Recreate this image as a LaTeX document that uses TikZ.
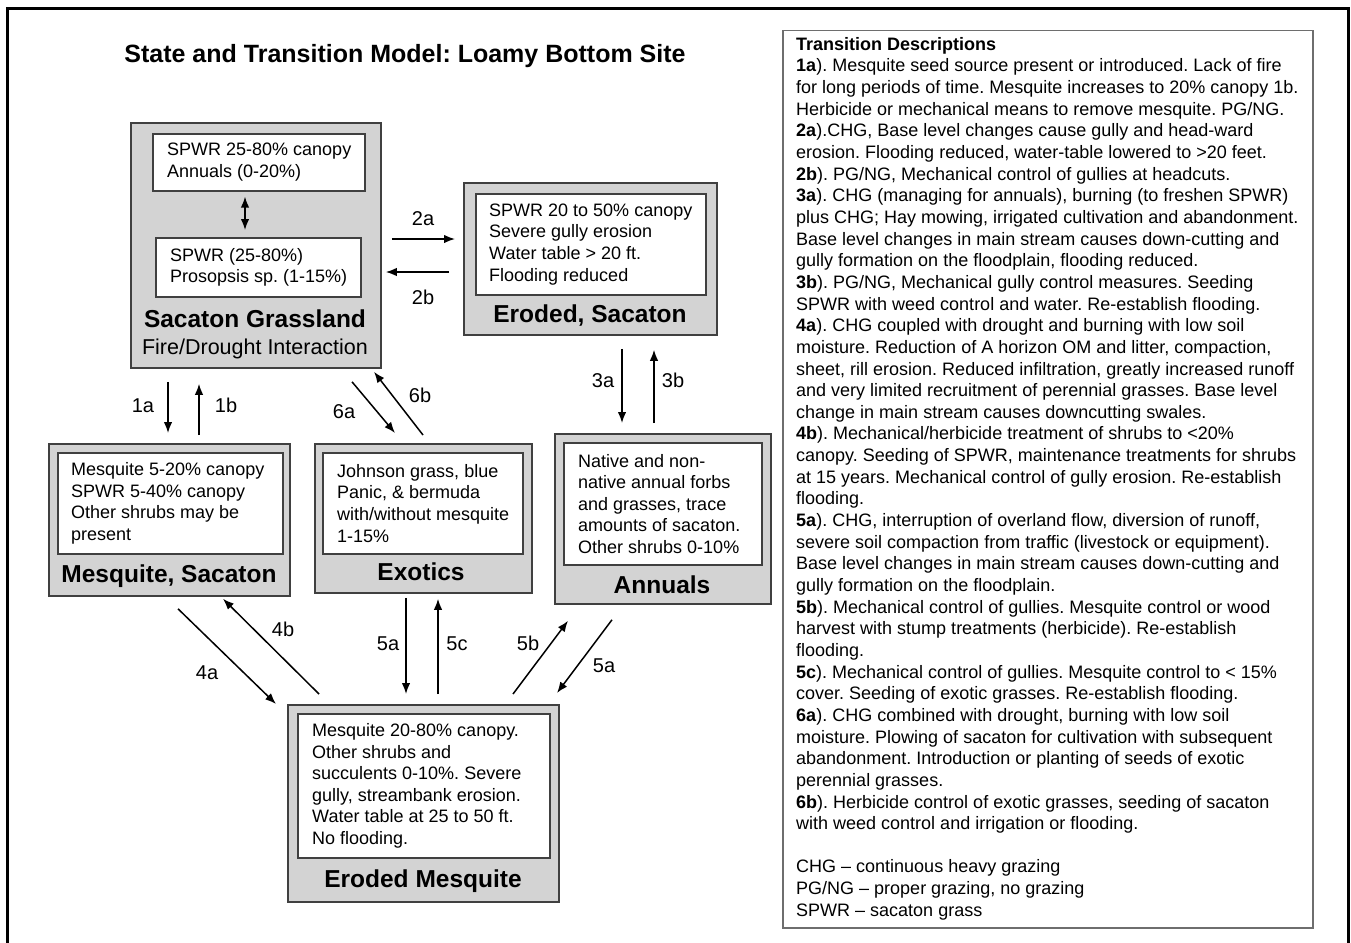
\documentclass[tikz,border=0pt]{standalone}
\usepackage{fontspec}
\setmainfont{Liberation Sans}
\usetikzlibrary{arrows.meta,calc}
\definecolor{stategray}{HTML}{D3D3D3}
\definecolor{edgegray}{HTML}{404040}
\definecolor{panelgray}{HTML}{6E6E6E}
\tikzset{>={Latex[length=11pt,width=8.5pt]},
         statebox/.style={draw=edgegray,line width=1.8pt,fill=stategray,
                          anchor=north west,inner sep=0pt},
         phasebox/.style={draw=edgegray,line width=1.6pt,fill=white,
                          anchor=north west,inner sep=0pt},
         phasetext/.style={anchor=west,align=left,inner sep=0pt,
                           font=\fontsize{18}{21.6}\selectfont},
         statename/.style={anchor=base,inner sep=0pt,
                           font=\fontsize{24.5}{29}\selectfont\bfseries},
         trans/.style={->,line width=1.5pt},
         translabel/.style={anchor=base,inner sep=0pt,
                            font=\fontsize{20}{24}\selectfont}}
\frenchspacing

\begin{document}
\begin{tikzpicture}[x=1pt,y=-1pt]
  \useasboundingbox (0,0) rectangle (1351,942);
  \draw[line width=3pt] (7,9) rectangle (1348,960);

  \node[statename,font=\fontsize{25}{30}\selectfont\bfseries] (T) at (405,63)
    {State and Transition Model: Loamy Bottom Site};

  % states
  \node[statebox,minimum width=250pt,minimum height=245pt] (G) at (130,122) {};
  \node[phasebox,minimum width=212pt,minimum height=57pt] (G1) at (152,133) {};
  \node[phasetext] (G1t) at ($(G1.west)+(15,0)$) {SPWR 25-80\% canopy\\Annuals (0-20\%)};
  \node[phasebox,minimum width=205pt,minimum height=59pt] (G2) at (155,237) {};
  \node[phasetext] (G2t) at ($(G2.west)+(15,0)$) {SPWR (25-80\%)\\Prosopsis sp. (1-15\%)};
  \node[statename] (Gn) at (255,327) {Sacaton Grassland};
  \node[translabel,font=\fontsize{21.5}{26}\selectfont] (Gs) at (255,354) {Fire/Drought Interaction};
  \draw[<->,line width=1.5pt] ($(G1.south west)+(93,5)$) -- ($(G2.north west)+(90,-7)$);

  \node[statebox,minimum width=253pt,minimum height=152pt] (ES) at (463,182) {};
  \node[phasebox,minimum width=230pt,minimum height=101pt] (ES1) at (475,193) {};
  \node[phasetext] (ES1t) at ($(ES1.west)+(14,0)$)
    {SPWR 20 to 50\% canopy\\Severe gully erosion\\Water table > 20 ft.\\Flooding reduced};
  \node[statename] (ESn) at (590,322) {Eroded, Sacaton};

  \node[statebox,minimum width=241pt,minimum height=152pt] (M) at (48,443) {};
  \node[phasebox,minimum width=225pt,minimum height=101pt] (M1) at (57,452) {};
  \node[phasetext] (M1t) at ($(M1.west)+(14,0)$)
    {Mesquite 5-20\% canopy\\SPWR 5-40\% canopy\\Other shrubs may be\\present};
  \node[statename] (Mn) at (169,582) {Mesquite, Sacaton};

  \node[statebox,minimum width=217pt,minimum height=149pt] (X) at (314,443) {};
  \node[phasebox,minimum width=200pt,minimum height=101pt] (X1) at (322,452) {};
  \node[phasetext] (X1t) at ($(X1.west)+(15,0)$)
    {Johnson grass, blue\\Panic, \& bermuda\\with/without mesquite\\1-15\%};
  \node[statename] (Xn) at (421,580) {Exotics};

  \node[statebox,minimum width=216pt,minimum height=170pt] (A) at (554,433) {};
  \node[phasebox,minimum width=198pt,minimum height=122pt] (A1) at (563,442) {};
  \node[phasetext] (A1t) at ($(A1.west)+(15,0)$)
    {Native and non-\\native annual forbs\\and grasses, trace\\amounts of sacaton.\\Other shrubs 0-10\%};
  \node[statename] (An) at (662,593) {Annuals};

  \node[statebox,minimum width=271pt,minimum height=197pt] (EM) at (287,704) {};
  \node[phasebox,minimum width=252pt,minimum height=144pt] (EM1) at (297,713) {};
  \node[phasetext] (EM1t) at ($(EM1.west)+(15,0)$)
    {Mesquite 20-80\% canopy.\\Other shrubs and\\succulents 0-10\%. Severe\\gully, streambank erosion.\\Water table at 25 to 50 ft.\\No flooding.};
  \node[statename] (EMn) at (423,887) {Eroded Mesquite};

  % transitions
  \draw[trans] ($(G.south west)+(38,13)$) -- ($(M.north west)+(120,-10)$);
  \draw[trans] ($(M.north west)+(151,-8)$) -- ($(G.south west)+(69,15)$);
  \draw[trans] ($(G.north east)+(10,117)$) -- ($(ES.north west)+(-8,57)$);
  \draw[trans] ($(ES.north west)+(-14,90)$) -- ($(G.north east)+(4,150)$);
  \draw[trans] ($(ES.south west)+(159,13)$) -- ($(A.north west)+(68,-10)$);
  \draw[trans] ($(A.north west)+(100,-10)$) -- ($(ES.south west)+(191,14)$);
  \draw[trans] ($(G.south west)+(222,13)$) -- ($(X.north west)+(81,-10)$);
  \draw[trans] ($(X.north west)+(109,-8)$) -- ($(G.south west)+(244,3)$);
  \draw[trans] ($(M.south west)+(130,12)$) -- ($(EM.north west)+(-11,0)$);
  \draw[trans] ($(EM.north west)+(32,-10)$) -- ($(M.south west)+(175,2)$);
  \draw[trans] ($(X.south west)+(92,4)$) -- ($(EM.north west)+(119,-10)$);
  \draw[trans] ($(EM.north west)+(151,-10)$) -- ($(X.south west)+(124,5)$);
  \draw[trans] ($(EM.north west)+(226,-10)$) -- ($(A.south west)+(14,16)$);
  \draw[trans] ($(A.south west)+(58,15)$) -- ($(EM.north west)+(270,-11)$);

  \node[translabel] (l1a) at (143,412) {1a};
  \node[translabel] (l1b) at (226,412) {1b};
  \node[translabel] (l2a) at (423,225) {2a};
  \node[translabel] (l2b) at (423,304) {2b};
  \node[translabel] (l3a) at (603,387) {3a};
  \node[translabel] (l3b) at (673,387) {3b};
  \node[translabel] (l6a) at (344,418) {6a};
  \node[translabel] (l6b) at (420,402) {6b};
  \node[translabel] (l4a) at (207,679) {4a};
  \node[translabel] (l4b) at (283,636) {4b};
  \node[translabel] (l5a) at (388,650) {5a};
  \node[translabel] (l5c) at (457,650) {5c};
  \node[translabel] (l5b) at (528,650) {5b};
  \node[translabel] (l5d) at (604,672) {5a};

  % descriptions
  \node[draw=panelgray,line width=1.5pt,anchor=north west,inner sep=0pt,
        minimum width=530pt,minimum height=897pt] (P) at (782,30) {};
  \node[anchor=north west,align=left,inner sep=0pt,
        font=\fontsize{18}{21.65}\selectfont] (D) at (796,37)
    {\textbf{Transition Descriptions}\\
     \textbf{1a}). Mesquite seed source present or introduced. Lack of fire\\
     for long periods of time. Mesquite increases to 20\% canopy 1b.\\
     Herbicide or mechanical means to remove mesquite. PG/NG.\\
     \textbf{2a}).CHG, Base level changes cause gully and head-ward\\
     erosion. Flooding reduced, water-table lowered to >20 feet.\\
     \textbf{2b}). PG/NG, Mechanical control of gullies at headcuts.\\
     \textbf{3a}). CHG (managing for annuals), burning (to freshen SPWR)\\
     plus CHG; Hay mowing, irrigated cultivation and abandonment.\\
     Base level changes in main stream causes down-cutting and\\
     gully formation on the floodplain, flooding reduced.\\
     \textbf{3b}). PG/NG, Mechanical gully control measures. Seeding\\
     SPWR with weed control and water. Re-establish flooding.\\
     \textbf{4a}). CHG coupled with drought and burning with low soil\\
     moisture. Reduction of A horizon OM and litter, compaction,\\
     sheet, rill erosion. Reduced infiltration, greatly increased runoff\\
     and very limited recruitment of perennial grasses. Base level\\
     change in main stream causes downcutting swales.\\
     \textbf{4b}). Mechanical/herbicide treatment of shrubs to <20\%\\
     canopy. Seeding of SPWR, maintenance treatments for shrubs\\
     at 15 years. Mechanical control of gully erosion. Re-establish\\
     flooding.\\
     \textbf{5a}). CHG, interruption of overland flow, diversion of runoff,\\
     severe soil compaction from traffic (livestock or equipment).\\
     Base level changes in main stream causes down-cutting and\\
     gully formation on the floodplain.\\
     \textbf{5b}). Mechanical control of gullies. Mesquite control or wood\\
     harvest with stump treatments (herbicide). Re-establish\\
     flooding.\\
     \textbf{5c}). Mechanical control of gullies. Mesquite control to < 15\%\\
     cover. Seeding of exotic grasses. Re-establish flooding.\\
     \textbf{6a}). CHG combined with drought, burning with low soil\\
     moisture. Plowing of sacaton for cultivation with subsequent\\
     abandonment. Introduction or planting of seeds of exotic\\
     perennial grasses.\\
     \textbf{6b}). Herbicide control of exotic grasses, seeding of sacaton\\
     with weed control and irrigation or flooding.\\
     \mbox{}\\
     CHG -- continuous heavy grazing\\
     PG/NG -- proper grazing, no grazing\\
     SPWR -- sacaton grass};
\end{tikzpicture}
\end{document}
